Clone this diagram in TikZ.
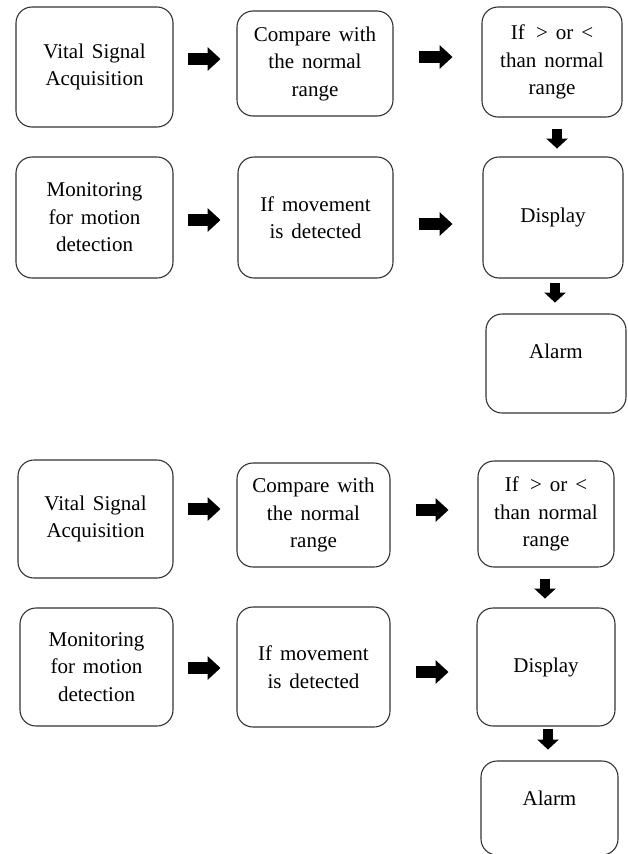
\documentclass[tikz,border=0pt]{standalone}
\usepackage{fontspec}
\setmainfont{Liberation Serif}[WordSpace=1.5]
\usetikzlibrary{arrows.meta}

\tikzset{
  box/.style={draw=black!80, line width=1.1pt, rounded corners=16pt,
    align=center, inner sep=0pt, font=\fontsize{21}{27.5}\selectfont},
  harrow/.style={line width=12pt, -{Triangle[length=13pt,width=23pt]}},
  varrow/.style={line width=10pt, -{Triangle[length=10pt,width=21pt]}},
}

\begin{document}
\begin{tikzpicture}[x=1pt,y=-1pt]
\clip (0,0) rectangle (627,854);
% upper chart
\begin{scope}
 \node[box, minimum width=157pt, minimum height=120pt] (va1) at (94.5,67) {Vital Signal\\Acquisition};
 \node[box, minimum width=156pt, minimum height=105pt] (cmp1) at (315,63.5) {Compare with\\the normal\\range};
 \node[box, minimum width=140pt, minimum height=110pt] (rng1) at (552,62) {If \,> or <\\than normal\\range};
 \node[box, minimum width=157pt, minimum height=121pt] (mon1) at (94.5,217.5) {Monitoring\\for motion\\detection};
 \node[box, minimum width=155pt, minimum height=121pt] (mov1) at (315.5,217.5) {If movement\\is detected};
 \node[box, minimum width=140pt, minimum height=121pt] (disp1) at (553,217.5) {Display};
 \node[box, minimum width=140pt, text height=44pt, text depth=55pt] (alarm1) at (556,363.5) {Alarm};
\end{scope}
\draw[harrow] ([shift={(14,-8)}]va1.east) -- +(33,0);
\draw[harrow] ([shift={(25,-6.5)}]cmp1.east) -- +(34,0);
\draw[harrow] ([shift={(14,2.5)}]mon1.east) -- +(33,0);
\draw[harrow] ([shift={(25,6.5)}]mov1.east) -- +(34,0);
\draw[varrow] ([shift={(5,11)}]rng1.south) -- +(0,20);
\draw[varrow] ([shift={(2,4)}]disp1.south) -- +(0,20);

% lower chart
\begin{scope}
 \node[box, minimum width=155pt, minimum height=118pt] (va2) at (95.5,519) {Vital Signal\\Acquisition};
 \node[box, minimum width=153pt, minimum height=104pt] (cmp2) at (313.5,515) {Compare with\\the normal\\range};
 \node[box, minimum width=136pt, minimum height=106pt] (rng2) at (546,514) {If \,> or <\\than normal\\range};
 \node[box, minimum width=153pt, minimum height=118pt] (mon2) at (96.5,667) {Monitoring\\for motion\\detection};
 \node[box, minimum width=153pt, minimum height=120pt] (mov2) at (313.5,667) {If movement\\is detected};
 \node[box, minimum width=138pt, minimum height=118pt] (disp2) at (546,667) {Display};
 \node[box, minimum width=137pt, text height=44pt, text depth=50pt] (alarm2) at (549.5,808) {Alarm};
\end{scope}
\draw[harrow] ([shift={(14,-10)}]va2.east) -- +(33,0);
\draw[harrow] ([shift={(25,-5)}]cmp2.east) -- +(33,0);
\draw[harrow] ([shift={(14,1)}]mon2.east) -- +(33,0);
\draw[harrow] ([shift={(25,5)}]mov2.east) -- +(33,0);
\draw[varrow] ([shift={(-1,11)}]rng2.south) -- +(0,20);
\draw[varrow] ([shift={(2,2)}]disp2.south) -- +(0,21);
\end{tikzpicture}
\end{document}
